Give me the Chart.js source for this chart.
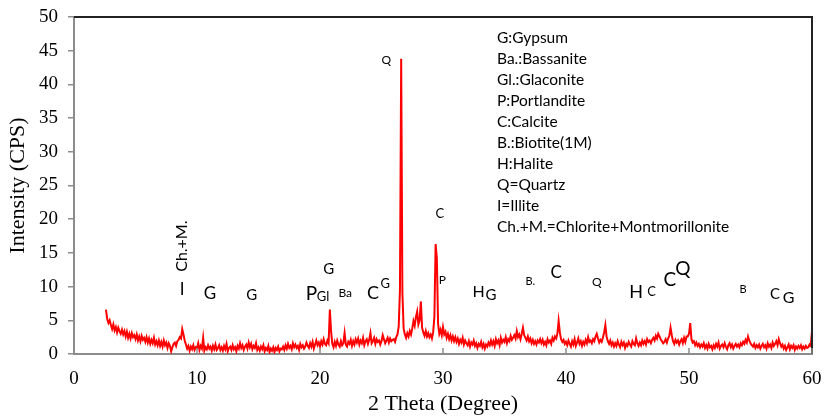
<!DOCTYPE html>
<html>
<head>
<meta charset="utf-8">
<script src="https://cdn.jsdelivr.net/npm/chart.js@4/dist/chart.umd.min.js"></script>
<style>
  html, body { margin: 0; padding: 0; background: #fff; }
  #wrap { width: 824px; height: 417px; }
</style>
</head>
<body>
<div id="wrap"><canvas id="xrd" width="824" height="417"></canvas></div>
<script>
// ── Scan: 2θ (degree) and intensity (CPS), one row per degree ──
const twoTheta = [
  2.6, 2.7, 2.8, 2.9,
  3.0, 3.1, 3.2, 3.3, 3.4, 3.5, 3.6, 3.7, 3.8, 3.9,
  4.0, 4.1, 4.2, 4.3, 4.4, 4.5, 4.6, 4.7, 4.8, 4.9,
  5.0, 5.1, 5.2, 5.3, 5.4, 5.5, 5.6, 5.7, 5.8, 5.9,
  6.0, 6.1, 6.2, 6.3, 6.4, 6.5, 6.6, 6.7, 6.8, 6.9,
  7.0, 7.1, 7.2, 7.3, 7.4, 7.5, 7.6, 7.7, 7.8, 7.9,
  8.0, 8.1, 8.2, 8.3, 8.4, 8.5, 8.6, 8.7, 8.8, 8.9,
  9.0, 9.1, 9.2, 9.3, 9.4, 9.5, 9.6, 9.7, 9.8, 9.9,
  10.0, 10.1, 10.2, 10.3, 10.4, 10.5, 10.6, 10.7, 10.8, 10.9,
  11.0, 11.1, 11.2, 11.3, 11.4, 11.5, 11.6, 11.7, 11.8, 11.9,
  12.0, 12.1, 12.2, 12.3, 12.4, 12.5, 12.6, 12.7, 12.8, 12.9,
  13.0, 13.1, 13.2, 13.3, 13.4, 13.5, 13.6, 13.7, 13.8, 13.9,
  14.0, 14.1, 14.2, 14.3, 14.4, 14.5, 14.6, 14.7, 14.8, 14.9,
  15.0, 15.1, 15.2, 15.3, 15.4, 15.5, 15.6, 15.7, 15.8, 15.9,
  16.0, 16.1, 16.2, 16.3, 16.4, 16.5, 16.6, 16.7, 16.8, 16.9,
  17.0, 17.1, 17.2, 17.3, 17.4, 17.5, 17.6, 17.7, 17.8, 17.9,
  18.0, 18.1, 18.2, 18.3, 18.4, 18.5, 18.6, 18.7, 18.8, 18.9,
  19.0, 19.1, 19.2, 19.3, 19.4, 19.5, 19.6, 19.7, 19.8, 19.9,
  20.0, 20.1, 20.2, 20.3, 20.4, 20.5, 20.6, 20.7, 20.8, 20.9,
  21.0, 21.1, 21.2, 21.3, 21.4, 21.5, 21.6, 21.7, 21.8, 21.9,
  22.0, 22.1, 22.2, 22.3, 22.4, 22.5, 22.6, 22.7, 22.8, 22.9,
  23.0, 23.1, 23.2, 23.3, 23.4, 23.5, 23.6, 23.7, 23.8, 23.9,
  24.0, 24.1, 24.2, 24.3, 24.4, 24.5, 24.6, 24.7, 24.8, 24.9,
  25.0, 25.1, 25.2, 25.3, 25.4, 25.5, 25.6, 25.7, 25.8, 25.9,
  26.0, 26.1, 26.2, 26.3, 26.4, 26.5, 26.6, 26.7, 26.8, 26.9,
  27.0, 27.1, 27.2, 27.3, 27.4, 27.5, 27.6, 27.7, 27.8, 27.9,
  28.0, 28.1, 28.2, 28.3, 28.4, 28.5, 28.6, 28.7, 28.8, 28.9,
  29.0, 29.1, 29.2, 29.3, 29.4, 29.5, 29.6, 29.7, 29.8, 29.9,
  30.0, 30.1, 30.2, 30.3, 30.4, 30.5, 30.6, 30.7, 30.8, 30.9,
  31.0, 31.1, 31.2, 31.3, 31.4, 31.5, 31.6, 31.7, 31.8, 31.9,
  32.0, 32.1, 32.2, 32.3, 32.4, 32.5, 32.6, 32.7, 32.8, 32.9,
  33.0, 33.1, 33.2, 33.3, 33.4, 33.5, 33.6, 33.7, 33.8, 33.9,
  34.0, 34.1, 34.2, 34.3, 34.4, 34.5, 34.6, 34.7, 34.8, 34.9,
  35.0, 35.1, 35.2, 35.3, 35.4, 35.5, 35.6, 35.7, 35.8, 35.9,
  36.0, 36.1, 36.2, 36.3, 36.4, 36.5, 36.6, 36.7, 36.8, 36.9,
  37.0, 37.1, 37.2, 37.3, 37.4, 37.5, 37.6, 37.7, 37.8, 37.9,
  38.0, 38.1, 38.2, 38.3, 38.4, 38.5, 38.6, 38.7, 38.8, 38.9,
  39.0, 39.1, 39.2, 39.3, 39.4, 39.5, 39.6, 39.7, 39.8, 39.9,
  40.0, 40.1, 40.2, 40.3, 40.4, 40.5, 40.6, 40.7, 40.8, 40.9,
  41.0, 41.1, 41.2, 41.3, 41.4, 41.5, 41.6, 41.7, 41.8, 41.9,
  42.0, 42.1, 42.2, 42.3, 42.4, 42.5, 42.6, 42.7, 42.8, 42.9,
  43.0, 43.1, 43.2, 43.3, 43.4, 43.5, 43.6, 43.7, 43.8, 43.9,
  44.0, 44.1, 44.2, 44.3, 44.4, 44.5, 44.6, 44.7, 44.8, 44.9,
  45.0, 45.1, 45.2, 45.3, 45.4, 45.5, 45.6, 45.7, 45.8, 45.9,
  46.0, 46.1, 46.2, 46.3, 46.4, 46.5, 46.6, 46.7, 46.8, 46.9,
  47.0, 47.1, 47.2, 47.3, 47.4, 47.5, 47.6, 47.7, 47.8, 47.9,
  48.0, 48.1, 48.2, 48.3, 48.4, 48.5, 48.6, 48.7, 48.8, 48.9,
  49.0, 49.1, 49.2, 49.3, 49.4, 49.5, 49.6, 49.7, 49.8, 49.9,
  50.0, 50.1, 50.2, 50.3, 50.4, 50.5, 50.6, 50.7, 50.8, 50.9,
  51.0, 51.1, 51.2, 51.3, 51.4, 51.5, 51.6, 51.7, 51.8, 51.9,
  52.0, 52.1, 52.2, 52.3, 52.4, 52.5, 52.6, 52.7, 52.8, 52.9,
  53.0, 53.1, 53.2, 53.3, 53.4, 53.5, 53.6, 53.7, 53.8, 53.9,
  54.0, 54.1, 54.2, 54.3, 54.4, 54.5, 54.6, 54.7, 54.8, 54.9,
  55.0, 55.1, 55.2, 55.3, 55.4, 55.5, 55.6, 55.7, 55.8, 55.9,
  56.0, 56.1, 56.2, 56.3, 56.4, 56.5, 56.6, 56.7, 56.8, 56.9,
  57.0, 57.1, 57.2, 57.3, 57.4, 57.5, 57.6, 57.7, 57.8, 57.9,
  58.0, 58.1, 58.2, 58.3, 58.4, 58.5, 58.6, 58.7, 58.8, 58.9,
  59.0, 59.1, 59.2, 59.3, 59.4, 59.5, 59.6, 59.7, 59.8, 59.9,
  60.0
];

const intensity = [
  6.6, 5.2, 4.6, 5.0,
  4.3, 3.7, 4.4, 3.5, 4.0, 3.2, 3.9, 3.4, 3.0, 3.6,
  2.9, 3.4, 2.6, 3.3, 2.4, 3.0, 2.3, 3.1, 2.5, 2.8,
  2.2, 2.9, 2.0, 2.6, 1.9, 2.7, 2.1, 2.4, 1.8, 2.5,
  1.7, 2.3, 1.5, 2.1, 1.6, 2.4, 1.4, 1.9, 1.3, 2.0,
  1.2, 1.8, 1.1, 2.0, 1.3, 1.7, 0.9, 1.6, 1.2, 0.4,
  1.0, 1.5, 1.7, 1.2, 1.9, 2.1, 2.5, 2.3, 3.7, 2.9,
  2.0, 1.4, 0.8, 1.2, 0.5, 1.1, 0.7, 1.3, 0.6, 1.0,
  0.9, 1.6, 0.6, 1.2, 0.8, 2.4, 0.5, 1.0, 0.7, 1.3,
  0.8, 1.1, 0.5, 1.2, 0.7, 1.4, 0.6, 0.9, 1.3, 0.6,
  1.0, 0.5, 1.2, 0.7, 1.5, 0.4, 0.9, 1.1, 0.6, 1.3,
  0.7, 1.0, 0.4, 1.2, 0.8, 1.6, 0.9, 1.3, 0.6, 1.1,
  1.4, 0.8, 1.7, 1.0, 1.5, 0.7, 1.2, 0.9, 1.6, 0.6,
  1.0, 0.5, 1.1, 0.7, 1.3, 0.4, 0.9, 0.6, 1.2, 0.3,
  0.8, 0.5, 1.0, 0.3, 0.9, 0.6, 1.1, 0.4, 0.8, 0.7,
  1.1, 0.6, 1.3, 0.8, 1.5, 0.9, 1.2, 0.7, 1.6, 1.0,
  1.4, 0.9, 1.2, 0.6, 1.5, 1.0, 1.3, 0.8, 1.1, 1.7,
  1.2, 0.9, 1.6, 1.1, 1.8, 0.8, 1.4, 2.0, 1.3, 1.7,
  1.1, 1.9, 1.4, 2.2, 1.5, 1.3, 2.0, 1.6, 6.6, 3.4,
  1.5, 1.0, 1.8, 1.2, 2.0, 1.4, 1.1, 1.9, 1.3, 1.6,
  3.1, 1.4, 1.1, 1.8, 1.5, 2.1, 1.2, 1.9, 1.4, 2.2,
  1.7, 2.3, 1.4, 2.0, 1.6, 2.4, 1.3, 1.9, 2.2, 1.5,
  2.1, 3.1, 1.6, 1.9, 2.4, 1.5, 2.2, 1.8, 2.0, 1.4,
  1.9, 2.8, 2.2, 1.6, 2.0, 2.4, 1.7, 2.3, 1.9, 2.1,
  2.2, 1.8, 2.5, 2.9, 4.1, 9.5, 43.8, 9.0, 3.8, 2.9,
  2.4, 3.1, 2.6, 3.4, 2.9, 3.8, 4.9, 4.2, 5.5, 6.3,
  4.4, 5.0, 7.8, 3.9, 3.2, 2.7, 3.4, 2.6, 3.1, 2.5,
  2.9, 2.3, 3.2, 5.5, 16.3, 14.2, 4.5, 3.0, 3.6, 2.8,
  4.0, 2.9, 3.3, 2.4, 3.0, 2.2, 2.8, 2.0, 2.6, 1.9,
  2.5, 1.8, 2.3, 1.5, 2.1, 1.7, 2.4, 1.4, 2.0, 1.6,
  1.3, 1.9, 1.1, 1.7, 1.4, 2.0, 1.2, 1.6, 0.9, 1.5,
  1.2, 1.8, 1.0, 1.5, 0.8, 1.4, 1.1, 1.7, 1.3, 2.0,
  1.4, 1.9, 1.2, 2.2, 1.6, 2.0, 1.3, 2.4, 1.7, 2.1,
  1.8, 2.5, 1.6, 2.2, 1.9, 2.7, 2.1, 2.4, 2.8, 2.3,
  3.4, 2.5, 2.9, 2.2, 3.0, 3.9, 2.8, 2.4, 2.0, 2.6,
  1.9, 2.3, 1.6, 2.1, 1.5, 1.9, 1.4, 2.0, 1.7, 2.2,
  1.6, 2.1, 1.4, 1.8, 1.3, 2.2, 1.7, 2.0, 1.5, 2.4,
  2.0, 2.6, 2.3, 3.0, 4.9, 3.2, 2.2, 1.8, 2.1, 1.5,
  1.8, 1.3, 2.0, 1.5, 1.1, 1.9, 1.4, 2.2, 1.2, 1.7,
  2.3, 1.5, 1.9, 1.2, 1.8, 1.4, 2.1, 1.6, 2.5, 1.8,
  2.0, 1.6, 2.2, 1.9, 2.6, 3.0, 2.3, 1.7, 2.1, 1.8,
  2.4, 3.2, 4.3, 2.6, 1.9, 1.5, 2.0, 1.3, 1.7, 1.1,
  1.6, 1.2, 1.9, 1.4, 1.0, 1.8, 1.3, 1.7, 0.9, 1.5,
  1.2, 1.8, 1.4, 1.1, 1.9, 1.5, 1.3, 2.3, 1.6, 1.2,
  1.7, 1.3, 2.0, 1.5, 1.9, 1.4, 2.2, 1.8, 2.0, 1.6,
  2.1, 2.4, 2.0, 2.7, 2.3, 3.0, 2.6, 2.2, 1.9, 1.6,
  1.8, 2.2, 1.7, 2.3, 2.7, 3.9, 2.8, 1.9, 1.5, 2.1,
  1.7, 2.0, 1.4, 1.9, 2.2, 1.6, 2.4, 1.8, 2.6, 2.6,
  3.0, 4.6, 2.2, 1.7, 1.9, 1.3, 1.7, 1.2, 1.5, 1.0,
  1.4, 1.1, 1.6, 0.9, 1.3, 0.8, 1.5, 1.0, 1.2, 0.7,
  1.3, 0.9, 1.5, 1.1, 1.7, 0.8, 1.2, 1.4, 1.0, 1.6,
  1.1, 0.7, 1.3, 1.6, 1.0, 1.4, 0.8, 1.2, 1.5, 1.1,
  1.4, 1.0, 1.6, 1.3, 1.8, 1.5, 2.1, 1.7, 2.6, 2.0,
  1.6, 1.3, 1.1, 1.5, 0.9, 1.3, 1.0, 1.4, 0.8, 1.2,
  1.5, 1.0, 1.3, 0.8, 1.6, 1.1, 1.4, 0.9, 1.7, 1.2,
  1.5, 1.9, 1.3, 2.2, 1.6, 1.1, 1.4, 0.8, 1.2, 0.6,
  1.0, 1.4, 0.7, 1.2, 0.9, 1.3, 0.6, 1.1, 0.8, 1.2,
  0.9, 1.3, 0.7, 1.1, 0.8, 1.2, 0.9, 1.0, 1.4, 1.2,
  3.4
];

// ── Axis ticks ───────────────────────────────────────────────
const xTicks = [0, 10, 20, 30, 40, 50, 60];
const yTicks = [0, 5, 10, 15, 20, 25, 30, 35, 40, 45, 50];

// ── Phase marks on the peaks (text, 2θ, intensity, font px) ──
const markText = ['I', 'G', 'G', 'P', 'Gl', 'G', 'Ba', 'C', 'G', 'Q', 'C', 'P',
                  'H', 'G', 'B.', 'C', 'Q', 'H', 'C', 'C', 'Q', 'B', 'C', 'G'];
const markX    = [8.8, 11.05, 14.45, 19.3, 20.25, 20.7, 22.05, 24.3, 25.3, 25.4, 29.75, 29.95,
                  32.9, 33.9, 37.1, 39.2, 42.5, 45.7, 46.95, 48.45, 49.5, 54.4, 57.0, 58.1];
const markY    = [9.6, 8.9, 8.75, 8.9, 8.5, 12.6, 9.1, 9.0, 10.4, 43.6, 20.8, 10.9,
                  9.25, 8.75, 10.7, 12.1, 10.6, 9.1, 9.25, 11.0, 12.7, 9.6, 8.9, 8.35];
const markSize = [17, 17, 15, 19, 13, 15, 12, 18, 13, 12, 13, 12,
                  16, 15, 11, 17, 12, 18, 13, 19, 19, 11, 15, 16];

// rotated mark above the illite line
const rotText = 'Ch.+M.';
const rotX = 8.75;
const rotY = 16.0;

// ── Key of abbreviations ─────────────────────────────────────
const keyLines = [
  'G:Gypsum',
  'Ba.:Bassanite',
  'Gl.:Glaconite',
  'P:Portlandite',
  'C:Calcite',
  'B.:Biotite(1M)',
  'H:Halite',
  'Q=Quartz',
  'I=Illite',
  'Ch.+M.=Chlorite+Montmorillonite'
];

const SANS = 'Lato, "Open Sans", sans-serif';
const SERIF = '"Liberation Serif", "Times New Roman", serif';

// ── Plugin: frame, inner x ticks, phase marks, key ───────────
const decorations = {
  id: 'decorations',
  afterDatasetsDraw(chart) {
    const { ctx, chartArea: a, scales: { x, y } } = chart;
    ctx.save();

    // top and right frame
    ctx.strokeStyle = '#222';
    ctx.lineWidth = 2;
    ctx.beginPath();
    ctx.moveTo(a.left, a.top);
    ctx.lineTo(a.right, a.top);
    ctx.lineTo(a.right, a.bottom);
    ctx.stroke();

    // x tick marks pointing into the plot
    ctx.strokeStyle = '#8c8c8c';
    ctx.lineWidth = 1.5;
    xTicks.forEach(v => {
      const px = x.getPixelForValue(v);
      ctx.beginPath();
      ctx.moveTo(px, a.bottom);
      ctx.lineTo(px, a.bottom - 6);
      ctx.stroke();
    });

    // phase marks
    ctx.fillStyle = '#000';
    ctx.textAlign = 'center';
    ctx.textBaseline = 'middle';
    markText.forEach((t, i) => {
      ctx.font = markSize[i] + 'px ' + SANS;
      ctx.fillText(t, x.getPixelForValue(markX[i]), y.getPixelForValue(markY[i]));
    });

    ctx.save();
    ctx.translate(x.getPixelForValue(rotX), y.getPixelForValue(rotY));
    ctx.rotate(-Math.PI / 2);
    ctx.font = '16px ' + SANS;
    ctx.fillText(rotText, 0, 0);
    ctx.restore();

    // key
    ctx.textAlign = 'left';
    ctx.font = '15.5px ' + SANS;
    keyLines.forEach((t, i) => {
      ctx.fillText(t, 497, 38 + i * 21);
    });

    ctx.restore();
  }
};

new Chart(document.getElementById('xrd'), {
  type: 'line',
  data: {
    labels: twoTheta,
    datasets: [{
      data: intensity,
      borderColor: '#ff0000',
      borderWidth: 2,
      pointRadius: 0,
      tension: 0,
      fill: false
    }]
  },
  options: {
    responsive: false,
    animation: false,
    layout: { padding: { top: 17, right: 12, left: 0, bottom: 0 } },
    plugins: {
      legend: { display: false },
      tooltip: { enabled: false }
    },
    scales: {
      x: {
        type: 'linear',
        min: 0,
        max: 60,
        afterBuildTicks: s => { s.ticks = xTicks.map(v => ({ value: v })); },
        afterFit: s => { s.height = 63; s.paddingLeft = 0; s.paddingRight = 0; },
        ticks: { color: '#000', font: { family: SERIF, size: 19 }, padding: 14, maxRotation: 0 },
        grid: { drawOnChartArea: false, drawTicks: false },
        border: { color: '#8c8c8c', width: 2 },
        title: {
          display: true,
          text: '2 Theta (Degree)',
          color: '#000',
          font: { family: SERIF, size: 22 },
          padding: { top: 0, bottom: 0 }
        }
      },
      y: {
        min: 0,
        max: 50,
        afterBuildTicks: s => { s.ticks = yTicks.map(v => ({ value: v })); },
        afterFit: s => { s.width = 74; s.paddingTop = 0; s.paddingBottom = 0; },
        ticks: { color: '#000', font: { family: SERIF, size: 19 }, padding: 10 },
        grid: { drawOnChartArea: false, drawTicks: true, tickLength: 6, color: '#8c8c8c', lineWidth: 1.5 },
        border: { color: '#8c8c8c', width: 2 },
        title: {
          display: true,
          text: 'Intensity (CPS)',
          color: '#000',
          font: { family: SERIF, size: 22 },
          padding: { top: 5, bottom: 0 }
        }
      }
    }
  },
  plugins: [decorations]
});
</script>
</body>
</html>
